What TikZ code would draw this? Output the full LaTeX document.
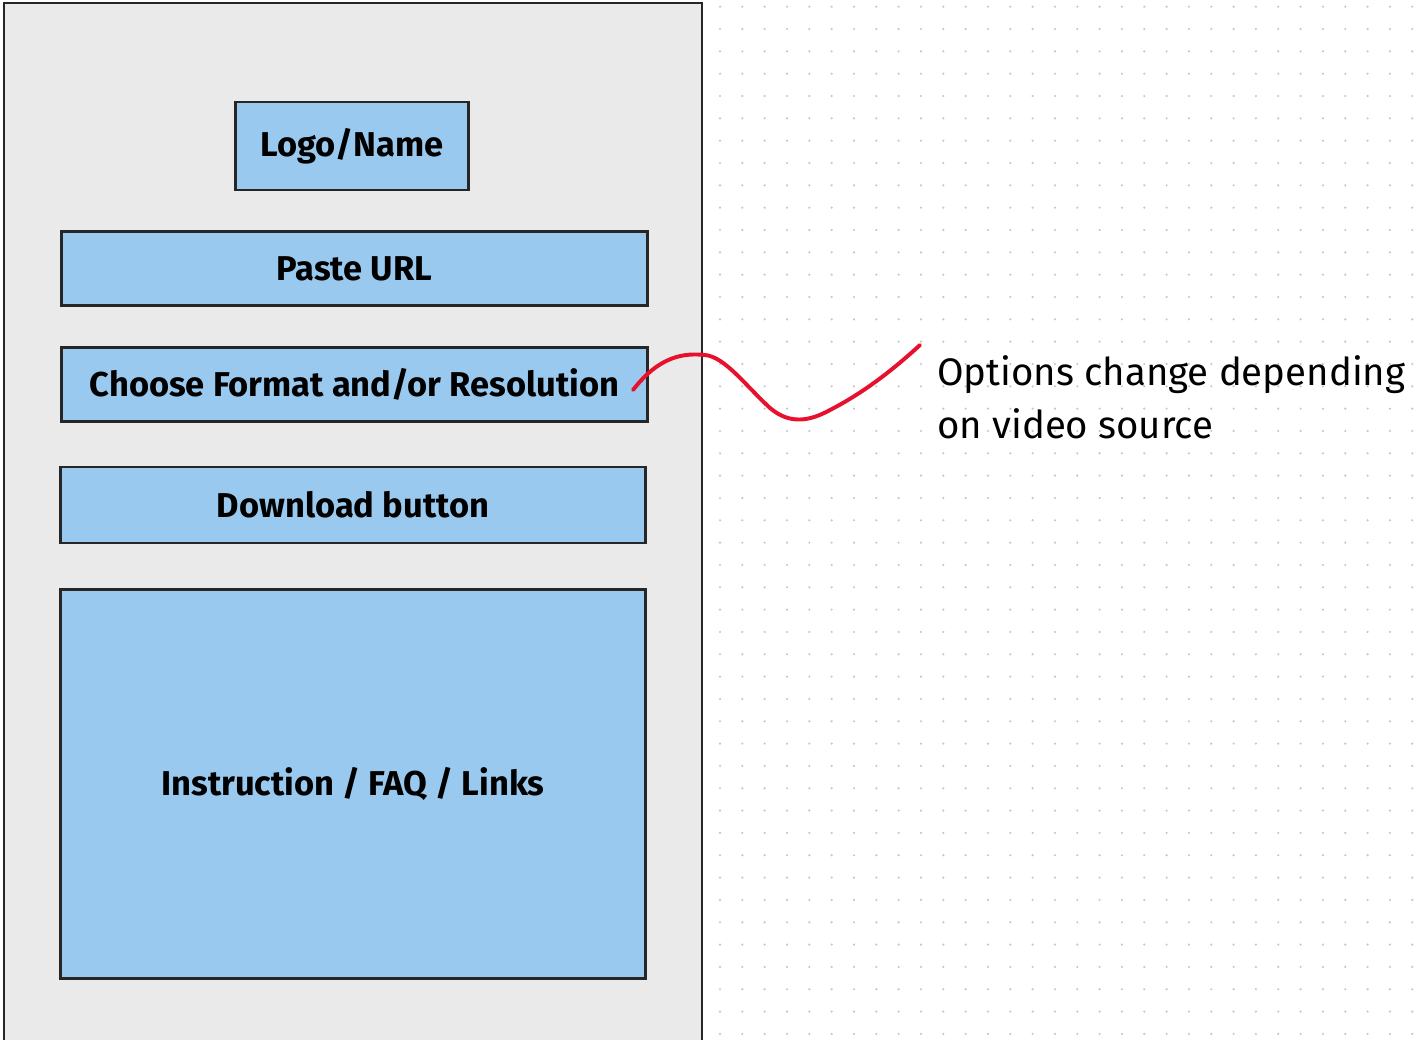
\documentclass[tikz,border=0pt]{standalone}
\usepackage{fontspec}
\setmainfont{Fira Sans}
\usetikzlibrary{positioning}
\definecolor{panelgray}{HTML}{EAEAEA}
\definecolor{boxblue}{HTML}{99C9EF}
\definecolor{edgegray}{HTML}{262626}
\definecolor{penred}{HTML}{E8112D}
\definecolor{dotgray}{HTML}{C6C6C6}

\begin{document}
\begin{tikzpicture}[x=0.025cm,y=-0.025cm]
% Styles for the panel, the blue boxes and the note
\tikzstyle{panel}=[draw=edgegray,line width=1.8pt,fill=panelgray];
\tikzstyle{box}=[draw=edgegray,line width=2.1pt,fill=boxblue,inner sep=0pt,font=\bfseries\fontsize{24.5}{29}\selectfont];
\tikzstyle{note}=[align=left,inner sep=0pt,font=\fontsize{27.3}{37.6}\selectfont];
\tikzstyle{pen}=[draw=penred,line width=2.8pt,line cap=round,line join=round];
\useasboundingbox (0,0) rectangle (1417,1039);
\fill[white] (0,0) rectangle (1417,1039);
% Dotted canvas
\foreach \i in {0,...,31}
\foreach \j in {0,...,46}
\fill[dotgray] (720+22.33*\i,6.7+22.33*\j) circle (0.85pt);
% The page
\draw[panel] (4,1050) -- (4,3) -- (702,3) -- (702,1050);
% The boxes
\node[box,minimum width=5.8cm,minimum height=2.2cm] (logo) at (352,146) {Logo/Name};
\node[box,minimum width=14.63cm,minimum height=1.87cm] (url) at (354.5,268.5) {Paste URL};
\node[box,minimum width=14.63cm,minimum height=1.87cm] (format) at (354.5,384.5) {Choose Format and/or Resolution};
\node[box,minimum width=14.63cm,minimum height=1.9cm] (download) at (353,505) {Download button};
\node[box,minimum width=14.63cm,minimum height=9.73cm] (info) at (353,784) {Instruction / FAQ / Links};
% The remark
\coordinate (penstart) at (633,390);
\coordinate (penend) at (920,345);
\node[note,anchor=north west] (remark) at (937,355) {Options change depending\\on video source};
\draw[pen] (penstart) .. controls (660,355) and (685,353) .. (705,355)
.. controls (725,357) and (745,385) .. (770,408)
.. controls (790,425) and (810,421) .. (830,410)
.. controls (865,392) and (895,368) .. (penend);
\end{tikzpicture}
\end{document}
